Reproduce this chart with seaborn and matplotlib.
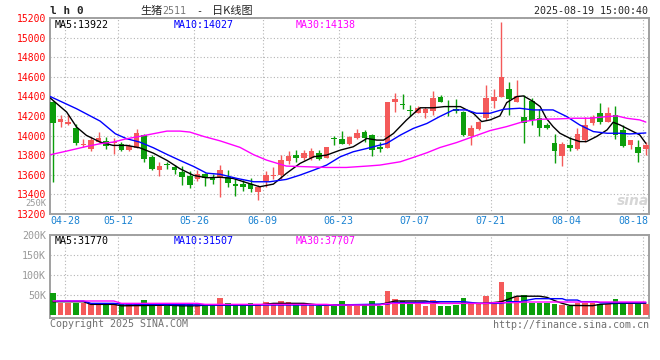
import matplotlib
matplotlib.use("Agg")
import matplotlib.pyplot as plt
import matplotlib.transforms as mtransforms
import seaborn as sns

# ---------------------------------------------------------------------------
# Values read off the Sina daily K-line of live hog futures LH2511
# candle index 0 = 2025-04-25 ... index 78 = 2025-08-19
# ---------------------------------------------------------------------------
opens = [14345, 14135, 14118, 14080, 13900, 13860, 13935, 13950, 13925, 13910,
         13858, 13878, 14010, 13780, 13645, 13700, 13680, 13628, 13585, 13555,
         13605, 13578, 13570, 13580, 13503, 13505, 13505, 13427, 13536, 13590,
         13598, 13740, 13800, 13767, 13767, 13818, 13775, 13970, 13962, 13910,
         13978, 14037, 14003, 13886, 13876, 14345, 14315, 14255, 14233, 14233,
         14250, 14398, 14303, 14269, 14245, 13997, 14065, 14177, 14357, 14398,
         14473, 14347, 14194, 14354, 14177, 14109, 13922, 13793, 13905, 13861,
         13956, 14126, 14228, 14143, 14211, 14060, 13905, 13885, 13861]
highs = [14350, 14210, 14225, 14115, 13965, 13990, 14035, 13985, 13980, 13935,
         13915, 14070, 14015, 13800, 13730, 13730, 13705, 13685, 13635, 13645,
         13615, 13610, 13700, 13650, 13563, 13550, 13563, 13495, 13640, 13675,
         13800, 13845, 13850, 13855, 13870, 13850, 13885, 13995, 14045, 13995,
         14070, 14055, 14020, 13935, 14345, 14430, 14425, 14310, 14300, 14287,
         14457, 14410, 14365, 14370, 14250, 14109, 14150, 14517, 14476, 15163,
         14551, 14568, 14415, 14381, 14269, 14126, 14017, 13939, 13990, 14075,
         14187, 14211, 14330, 14296, 14300, 14109, 13956, 13960, 13939]
lows = [13530, 14090, 14110, 13905, 13880, 13845, 13930, 13865, 13810, 13845,
        13840, 13870, 13730, 13645, 13590, 13660, 13605, 13500, 13465, 13540,
        13490, 13505, 13375, 13478, 13385, 13435, 13425, 13345, 13480, 13560,
        13555, 13710, 13735, 13750, 13750, 13750, 13770, 13905, 13915, 13900,
        13968, 13930, 13792, 13835, 13870, 14245, 14270, 14200, 14226, 14175,
        14210, 14340, 14195, 14228, 14000, 13905, 14060, 14160, 14280, 14395,
        14211, 14340, 13920, 14109, 13997, 14065, 13725, 13691, 13847, 13854,
        13939, 14109, 14119, 14140, 13966, 13881, 13860, 13730, 13803]
closes = [14125, 14165, 14140, 13925, 13910, 13955, 13975, 13895, 13935, 13857,
          13895, 14025, 13765, 13655, 13685, 13695, 13645, 13578, 13500, 13605,
          13570, 13552, 13645, 13512, 13490, 13480, 13455, 13478, 13597, 13598,
          13750, 13790, 13775, 13818, 13842, 13757, 13883, 13965, 13917, 13985,
          14026, 13978, 13850, 13862, 14342, 14369, 14310, 14250, 14284, 14267,
          14386, 14347, 14292, 14252, 14007, 14075, 14143, 14381, 14391, 14602,
          14371, 14405, 14133, 14160, 14075, 14075, 13847, 13915, 13878, 14017,
          14109, 14194, 14143, 14228, 14010, 13895, 13956, 13820, 13905]
# volume in thousand lots
volumes = [55.8, 30.8, 30.8, 30.8, 29.1, 26.6, 26.6, 26.6, 30.8, 26.6,
           26.6, 29.1, 37.4, 29.1, 26.6, 22.4, 22.4, 29.1, 29.1, 29.1,
           24.9, 24.9, 43.3, 30.8, 24.9, 24.9, 30.8, 24.9, 33.3, 24.9,
           34.9, 33.3, 29.1, 24.9, 24.9, 22.4, 22.4, 22.4, 34.9, 22.4,
           22.4, 27.4, 34.9, 22.4, 60.8, 39.9, 35.8, 33.3, 27.4, 22.4,
           37.4, 22.4, 22.4, 24.9, 42.4, 29.1, 27.4, 47.4, 33.3, 83.3,
           58.3, 44.1, 49.9, 30.8, 29.1, 29.1, 26.6, 24.9, 22.4, 30.8,
           30.8, 29.1, 26.6, 26.6, 39.9, 26.6, 26.6, 26.6, 26.6]

# moving-average lines as drawn on the chart (candle position, value)
ma5_x = [-0.4, 1.8, 3.1, 4.4, 6.2, 7.9, 9.7, 11.4, 13.2, 15.0, 16.7, 18.5, 20.2,
         22.0, 23.7, 25.5, 27.2, 29.0, 30.7, 32.5, 34.3, 36.0, 37.8, 39.5, 41.3,
         42.6, 43.5, 44.8, 46.5, 48.3, 50.1, 51.5, 53.6, 55.3, 56.4, 57.5, 58.8,
         59.7, 61.0, 61.9, 63.2, 64.1, 64.9, 65.8, 66.7, 68.0, 69.3, 70.2, 71.5,
         72.9, 73.7, 74.6, 75.9, 77.2, 78.0]
ma5 = [14386, 14240, 14087, 14002, 13934, 13900, 13900, 13876, 13821, 13747,
       13662, 13594, 13570, 13575, 13563, 13519, 13478, 13505, 13614, 13716,
       13784, 13801, 13852, 13886, 13971, 13954, 13954, 14022, 14158, 14284,
       14284, 14296, 14296, 14228, 14143, 14160, 14201, 14337, 14398, 14405,
       14347, 14296, 14177, 14092, 14024, 13973, 13939, 13939, 13990, 14058,
       14136, 14109, 14058, 14007, 13922]
ma10_x = [-0.4, 3.1, 6.2, 8.2, 9.7, 11.4, 13.2, 15.0, 16.7, 18.5, 20.2, 22.0,
          24.2, 26.4, 28.5, 30.7, 32.5, 34.3, 36.0, 37.8, 39.5, 41.3, 43.0, 43.9,
          45.7, 47.4, 49.2, 50.9, 52.7, 54.4, 55.7, 57.5, 59.3, 61.4, 63.2, 65.8,
          67.6, 69.3, 71.1, 72.9, 74.6, 75.9, 78.0]
ma10 = [14400, 14274, 14148, 14019, 13968, 13934, 13876, 13808, 13747, 13685,
        13617, 13605, 13563, 13529, 13529, 13553, 13597, 13648, 13699, 13784,
        13835, 13869, 13903, 13920, 14005, 14073, 14124, 14195, 14262, 14262,
        14228, 14228, 14269, 14279, 14262, 14262, 14194, 14109, 14041, 14024,
        14024, 14017, 14027]
ma30_x = [-0.4, 1.8, 4.4, 6.2, 7.9, 9.7, 11.4, 13.2, 15.0, 16.7, 18.0, 19.8,
          22.0, 24.6, 26.4, 28.1, 30.7, 33.4, 36.0, 38.6, 41.3, 43.0, 45.7, 47.4,
          49.2, 50.9, 53.1, 55.3, 57.5, 59.7, 61.9, 64.1, 66.3, 68.5, 70.6, 72.9,
          74.2, 75.5, 77.2, 78.0]
ma30 = [13804, 13842, 13889, 13917, 13934, 13968, 13992, 14019, 14046, 14046,
        14036, 13992, 13946, 13880, 13805, 13750, 13689, 13682, 13675, 13675,
        13689, 13699, 13733, 13777, 13825, 13878, 13929, 13990, 14051, 14092,
        14143, 14167, 14170, 14177, 14177, 14194, 14201, 14177, 14160, 14138]

vma5_x = [0, 4, 5, 8, 9, 15, 17, 19, 20, 27, 29, 33, 35, 38, 43, 45, 49, 51, 57,
          59, 61, 64, 65, 66, 67, 68, 71, 72, 74, 78]
vma5 = [33.3, 33.3, 26.6, 26.6, 23.0, 24.5, 23.0, 23.0, 25.0, 25.0, 29.1, 29.1,
        25.0, 25.0, 26.0, 35.0, 35.0, 29.1, 29.1, 33.3, 47.0, 47.0, 44.1, 36.0,
        29.1, 24.0, 23.3, 26.6, 29.1, 29.5]
vma10_x = [0.5, 4, 5, 8, 9, 20, 37, 44, 45, 48, 50, 54, 56, 59, 60, 61.5, 62.5,
           63.5, 67, 67.5, 69, 69.5, 71.5, 72, 78]
vma10 = [35.0, 35.0, 29.1, 29.1, 27.4, 25.0, 25.0, 27.4, 30.8, 30.8, 33.3, 33.3,
         29.1, 29.1, 33.3, 33.3, 37.4, 40.8, 40.8, 37.4, 37.4, 33.3, 33.3, 30.5,
         30.5]
vma30_x = [0, 8, 9, 19, 20, 36, 37, 43, 44, 57, 58, 61, 62, 78]
vma30 = [35.0, 35.0, 29.1, 29.1, 26.6, 26.6, 24.9, 24.9, 29.1, 29.1, 30.8, 30.8,
         32.5, 32.5]

date_idx = [1, 8, 18, 27, 37, 47, 57, 67, 77]
date_labels = ["04-28", "05-12", "05-26", "06-09", "06-23", "07-07", "07-21",
               "08-04", "08-18"]
price_ticks = list(range(13200, 15201, 200))
vol_ticks = [50, 100, 150, 200]
vol_tick_labels = ["50K", "100K", "150K", "200K"]

# ---------------------------------------------------------------------------
sns.set_style("white")
plt.rcParams["font.family"] = ["DejaVu Sans Mono", "Noto Sans CJK SC"]

RED, GREEN = "#f45a5a", "#0c9e0c"
GRID = dict(color="#b4b4b4", linestyle=(0, (1, 2)), linewidth=0.8)
W, H = 660, 360


def fx(px):
    return px / W


def fy(py):
    return 1 - py / H


fig = plt.figure(figsize=(W / 100, H / 100), dpi=100)
ax = fig.add_axes([fx(50), fy(214), fx(649.3) - fx(50), fy(18) - fy(214)])
axv = fig.add_axes([fx(50), fy(318.3), fx(649.3) - fx(50), fy(234.5) - fy(318.3)])

idx = list(range(len(closes)))
up = [c >= o for o, c in zip(opens, closes)]
colors = [RED if u else GREEN for u in up]

# candles
ax.vlines(idx, lows, highs, colors=colors, linewidth=1, zorder=3)
body_low = [min(o, c) for o, c in zip(opens, closes)]
body_h = [max(abs(c - o), 12) for o, c in zip(opens, closes)]
ax.bar(idx, body_h, bottom=body_low, width=0.75, color=colors, linewidth=0, zorder=4)

sns.lineplot(x=ma5_x, y=ma5, ax=ax, color="black", linewidth=1, estimator=None, sort=False, zorder=5)
sns.lineplot(x=ma10_x, y=ma10, ax=ax, color="#0000ff", linewidth=1, estimator=None, sort=False, zorder=5)
sns.lineplot(x=ma30_x, y=ma30, ax=ax, color="#ff00ff", linewidth=1, estimator=None, sort=False, zorder=5)

# volume
axv.bar(idx, volumes, width=0.75, color=colors, linewidth=0, zorder=3)
sns.lineplot(x=vma5_x, y=vma5, ax=axv, color="black", linewidth=1, estimator=None, sort=False, zorder=5)
sns.lineplot(x=vma10_x, y=vma10, ax=axv, color="#0000ff", linewidth=1, estimator=None, sort=False, zorder=5)
sns.lineplot(x=vma30_x, y=vma30, ax=axv, color="#ff00ff", linewidth=1, estimator=None, sort=False, zorder=5)

grid_x = [d + 0.6 for d in date_idx]
for a in (ax, axv):
    a.set_xlim(-0.395, 78.46)
    a.set_xticks(grid_x)
    a.set_xlabel("")
    a.set_ylabel("")
    a.set_axisbelow(True)
    a.grid(True, **GRID)
    a.tick_params(length=0, labelsize=7.2, pad=3)
    for s in a.spines.values():
        s.set_color("#a0a0a0")
        s.set_linewidth(1.4)

ax.set_ylim(13200, 15200)
ax.set_yticks(price_ticks)
ax.set_yticklabels([str(t) for t in price_ticks])
ax.tick_params(axis="y", labelcolor="#ff0000", labelsize=7)
ax.set_xticklabels(date_labels)
ax.tick_params(axis="x", labelcolor="#1a82d2", pad=1.5)
last = ax.get_xticklabels()[-1]
last.set_transform(last.get_transform()
                   + mtransforms.ScaledTranslation(-0.09, 0, fig.dpi_scale_trans))

axv.set_ylim(-8.25, 201.25)
axv.set_yticks(vol_ticks)
axv.set_yticklabels(vol_tick_labels)
axv.tick_params(axis="y", labelcolor="#999999")
axv.tick_params(axis="x", labelbottom=False)

# MA read-outs inside the panels
for a, vals, yy in ((ax, ("13922", "14027", "14138"), 0.99),
                    (axv, ("31770", "31507", "37707"), 0.985)):
    a.text(0.008, yy, "MA5:" + vals[0], transform=a.transAxes, ha="left", va="top",
           fontsize=7.2, color="black")
    a.text(0.207, yy, "MA10:" + vals[1], transform=a.transAxes, ha="left", va="top",
           fontsize=7.2, color="#0000ff")
    a.text(0.41, yy, "MA30:" + vals[2], transform=a.transAxes, ha="left", va="top",
           fontsize=7.2, color="#ff00ff")

# header / footer text
cjk = ["Noto Sans CJK SC", "DejaVu Sans"]
fig.text(fx(50), fy(11), "l h 0", ha="left", va="center", fontsize=8, fontweight="bold")
fig.text(fx(140), fy(11), "生猪", ha="left", va="center", fontsize=8, family=cjk)
fig.text(fx(162), fy(11), "2511", ha="left", va="center", fontsize=7.2, color="#777777")
fig.text(fx(196), fy(11), "-", ha="left", va="center", fontsize=7.2)
fig.text(fx(212), fy(11), "日K线图", ha="left", va="center", fontsize=8, family=cjk)
fig.text(fx(648), fy(11), "2025-08-19 15:00:40", ha="right", va="center", fontsize=7.2)
fig.text(fx(46), fy(204), "250K", ha="right", va="center", fontsize=6.3, color="#999999")
fig.text(fx(50), fy(324), "Copyright 2025 SINA.COM", ha="left", va="center",
         fontsize=7.2, color="#707070")
fig.text(fx(649), fy(325), "http://finance.sina.com.cn", ha="right", va="center",
         fontsize=7.2, color="#707070")
fig.text(fx(633), fy(201), "sina", ha="center", va="center", fontsize=10,
         fontweight="bold", style="italic", color="#d6d6d6", family="DejaVu Sans")

fig.savefig("out.png", dpi=100, facecolor="white")
